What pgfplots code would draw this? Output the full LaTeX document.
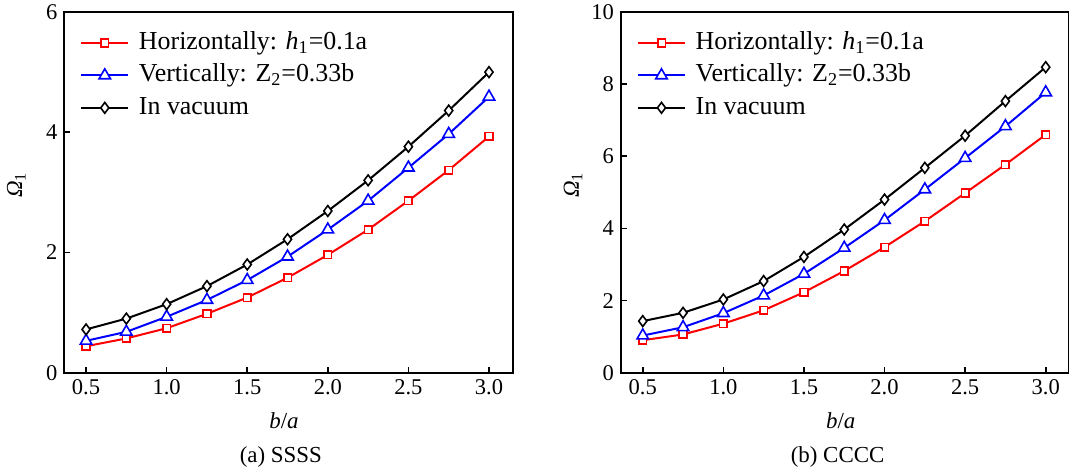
\documentclass[border=0pt]{standalone}
\usepackage{fontspec}
\setmainfont{Liberation Serif}
\usepackage{pgfplots}
\pgfplotsset{compat=1.18}

\pgfplotsset{
  myaxis/.style={
    scale only axis, width=224.2bp, height=180.35bp,
    xmin=0.365, xmax=3.147, ymin=0,
    xtick={0.5,1.0,1.5,2.0,2.5,3.0},
    tick pos=left, tick align=inside, major tick length=3bp,
    axis line style={line width=1bp},
    every tick/.style={line width=0.8bp, black},
    clip=false,
    /pgf/number format/assume math mode=true,
    xticklabel style={/pgf/number format/.cd, fixed, fixed zerofill, precision=1},
    tick label style={font=\fontsize{11.3}{13}\selectfont},
    label style={font=\fontsize{11.5}{13}\selectfont},
    xlabel={\textit{b}/\textit{a}},
    ylabel={{\itshape Ω}\textsubscript{1}},
    xlabel style={at={(rel axis cs:0.49,-0.1325)}, anchor=center},
    ylabel style={at={(rel axis cs:-0.107,0.52)}, anchor=center},
    legend style={draw=none, fill=none, inner sep=0pt, at={(rel axis cs:0.035,0.9525)}, anchor=north west,
      font=\fontsize{13}{15}\selectfont, row sep=2.7bp,
      nodes={inner sep=0.5bp, text height=9.5bp, text depth=3bp},
      /tikz/every odd column/.append style={column sep=4.5bp}},
    legend cell align=left,
    legend image code/.code={\draw[mark repeat=2,mark phase=2] plot coordinates {(0bp,0bp)(11.7bp,0bp)(23.3bp,0bp)};},
  },
  sred/.style={red, line width=1bp, mark=square*, mark size=1.9bp, mark options={fill=white, line width=0.8bp, solid}},
  sblue/.style={blue, line width=1bp, mark=triangle*, mark size=3.3bp, mark options={fill=white, line width=0.8bp, solid}},
  sblack/.style={black, line width=1bp, mark=diamond*, mark size=2.7bp, mark options={fill=white, line width=0.8bp, solid}},
}

\begin{document}
\begin{tikzpicture}
\clip (0,0) rectangle (534.5bp,234.5bp);
\begin{axis}[myaxis, at={(32.15bp,48.15bp)}, anchor=south west, ymax=6, ytick={0,2,4,6}]
\addplot[sred] coordinates {(0.5,0.44)(0.75,0.57)(1.0,0.74)(1.25,0.98)(1.5,1.25)(1.75,1.58)(2.0,1.96)(2.25,2.38)(2.5,2.86)(2.75,3.37)(3.0,3.93)};
\addlegendentry{Horizontally: \textit{h}\textsubscript{1}=0.1a}
\addplot[sblue] coordinates {(0.5,0.53)(0.75,0.68)(1.0,0.93)(1.25,1.21)(1.5,1.54)(1.75,1.93)(2.0,2.38)(2.25,2.86)(2.5,3.41)(2.75,3.97)(3.0,4.59)};
\addlegendentry{Vertically: Z\textsubscript{2}=0.33b}
\addplot[sblack] coordinates {(0.5,0.72)(0.75,0.90)(1.0,1.14)(1.25,1.44)(1.5,1.80)(1.75,2.22)(2.0,2.69)(2.25,3.20)(2.5,3.76)(2.75,4.36)(3.0,5.00)};
\addlegendentry{In vacuum}
\node[font=\fontsize{11.5}{13}\selectfont] at (rel axis cs:0.483,-0.233) {(a) SSSS};
\end{axis}
\begin{axis}[myaxis, at={(310.5bp,48.15bp)}, anchor=south west, ymax=10, ytick={0,2,4,6,8,10}]
\addplot[sred] coordinates {(0.5,0.90)(0.75,1.06)(1.0,1.36)(1.25,1.73)(1.5,2.23)(1.75,2.82)(2.0,3.48)(2.25,4.20)(2.5,4.98)(2.75,5.77)(3.0,6.60)};
\addlegendentry{Horizontally: \textit{h}\textsubscript{1}=0.1a}
\addplot[sblue] coordinates {(0.5,1.03)(0.75,1.26)(1.0,1.65)(1.25,2.14)(1.5,2.74)(1.75,3.46)(2.0,4.23)(2.25,5.08)(2.5,5.95)(2.75,6.83)(3.0,7.77)};
\addlegendentry{Vertically: Z\textsubscript{2}=0.33b}
\addplot[sblack] coordinates {(0.5,1.43)(0.75,1.66)(1.0,2.03)(1.25,2.54)(1.5,3.21)(1.75,3.97)(2.0,4.80)(2.25,5.68)(2.5,6.57)(2.75,7.53)(3.0,8.47)};
\addlegendentry{In vacuum}
\node[font=\fontsize{11.5}{13}\selectfont] at (rel axis cs:0.483,-0.233) {(b) CCCC};
\end{axis}
\end{tikzpicture}
\end{document}
